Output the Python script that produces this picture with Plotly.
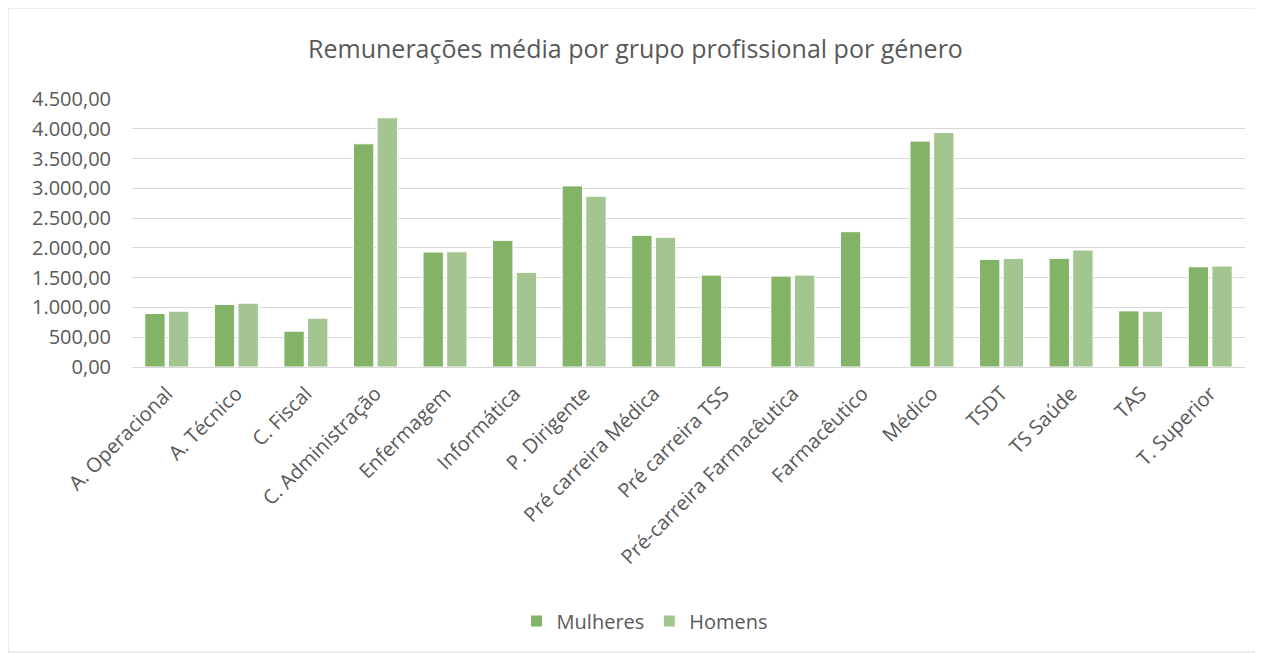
import plotly.graph_objects as go

grupos = ["A. Operacional", "A. Técnico", "C. Fiscal", "C. Administração", "Enfermagem",
          "Informática", "P. Dirigente", "Pré carreira Médica", "Pré carreira TSS",
          "Pré-carreira Farmacêutica", "Farmacêutico", "Médico", "TSDT", "TS Saúde",
          "TAS", "T. Superior"]
mulheres = [899, 1050, 601, 3748, 1930, 2127, 3041, 2211, 1543, 1526, 2272, 3793, 1807, 1824, 942, 1683]
homens = [937, 1072, 820, 4185, 1935, 1589, 2867, 2178, None, 1543, None, 3938, 1824, 1964, 937, 1695]

cor_m = "#82B366"
cor_h = "#A3C58F"
cinza = "#595959"

fig = go.Figure()
fig.add_trace(go.Bar(x=grupos, y=mulheres, name="Mulheres",
                     marker=dict(color=cor_m, line=dict(color="white", width=1))))
fig.add_trace(go.Bar(x=grupos, y=homens, name="Homens",
                     marker=dict(color=cor_h, line=dict(color="white", width=1))))

# a página tem 8px de margem no body
W, H = 1255, 645
L, R, T, B = 124, 18, 91, 286
pw, ph = W - L - R, H - T - B

fig.update_layout(
    width=W, height=H,
    font=dict(family="Open Sans", color=cinza, size=16),
    separators=",.",
    title=dict(text="Remunerações média por grupo profissional por género",
               x=0.5, xanchor="center", y=1 - 41 / H, yanchor="middle",
               font=dict(size=25, color=cinza)),
    barmode="group", bargap=0.32, bargroupgap=0.14,
    plot_bgcolor="white", paper_bgcolor="white",
    margin=dict(l=L, r=R, t=T, b=B, autoexpand=False),
    legend=dict(orientation="h", x=0.461, xanchor="center", y=-(621 - 367) / ph,
                yanchor="middle", font=dict(size=20, color=cinza),
                itemwidth=30, tracegroupgap=0),
    showlegend=True,
)
fig.update_yaxes(range=[0, 4500], dtick=500, tickformat=",.2f",
                 gridcolor="#D9D9D9", gridwidth=1, zeroline=False,
                 showline=False, ticks="", ticklabelstandoff=20,
                 tickfont=dict(size=20, color=cinza))
fig.update_xaxes(tickangle=-45, showline=True, linecolor="#D9D9D9", linewidth=1,
                 ticks="", ticklabelstandoff=6, tickfont=dict(size=20, color=cinza))

# moldura do gráfico
fig.add_shape(type="rect", xref="paper", yref="paper",
              x0=-L / pw, x1=1 + (R - 1) / pw, y0=-(B - 1) / ph, y1=1 + T / ph,
              line=dict(color="#D9D9D9", width=1), layer="below")

fig.write_html("out.html")
